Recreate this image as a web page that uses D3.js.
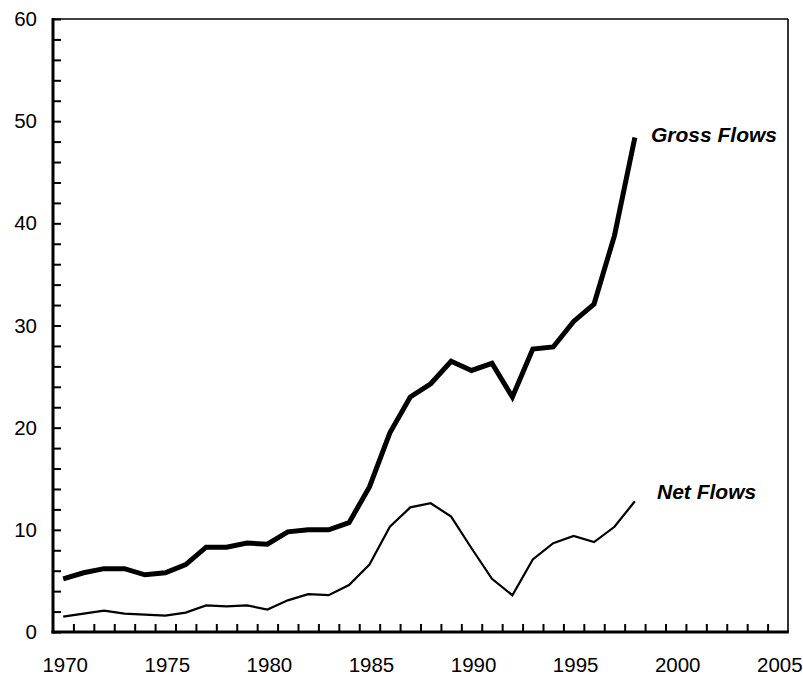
<!DOCTYPE html>
<html><head><meta charset="utf-8">
<script src="https://cdn.jsdelivr.net/npm/d3@7"></script>
<style>body{margin:0;background:#fff}svg{display:block}</style>
</head><body>
<svg id="c" width="803" height="675"></svg>
<script>
const years = [1970,1971,1972,1973,1974,1975,1976,1977,1978,1979,1980,1981,1982,1983,1984,1985,1986,1987,1988,1989,1990,1991,1992,1993,1994,1995,1996,1997,1998];
const grossFlows = [5.2,5.8,6.2,6.2,5.6,5.8,6.6,8.3,8.3,8.7,8.6,9.8,10.0,10.0,10.7,14.2,19.5,23.0,24.3,26.5,25.6,26.3,23.0,27.7,27.9,30.4,32.1,38.8,48.4];
const netFlows = [1.5,1.8,2.1,1.8,1.7,1.6,1.9,2.6,2.5,2.6,2.2,3.1,3.7,3.6,4.6,6.6,10.3,12.2,12.6,11.3,8.2,5.2,3.6,7.1,8.7,9.4,8.8,10.3,12.8];
const xTickLabels = [1970,1975,1980,1985,1990,1995,2000,2005];
const yTickLabels = [0,10,20,30,40,50,60];
const seriesLabels = ["Gross Flows","Net Flows"];

const svg = d3.select("#c");
const L=53, R=788, T=19, B=632;
const x = d3.scaleLinear().domain([1969.5,2005.5]).range([L,R]);
const y = d3.scaleLinear().domain([0,60]).range([B,T]);
const font = "'Liberation Sans', Arial, Helvetica, sans-serif";

// frame top/right
svg.append("line").attr("x1",L).attr("x2",R).attr("y1",T).attr("y2",T).attr("stroke","#000").attr("stroke-width",1.6);
svg.append("line").attr("x1",R).attr("x2",R).attr("y1",T).attr("y2",B).attr("stroke","#000").attr("stroke-width",1.6);

// y minor ticks
const yMinor = d3.range(0,61,2);
const gyT = svg.append("g").attr("transform",`translate(${L},0)`)
  .call(d3.axisLeft(y).tickValues(yMinor).tickSize(-8).tickFormat(""));
gyT.select(".domain").remove();
gyT.selectAll("line").attr("stroke-width",2);
const gyL = svg.append("g").attr("transform",`translate(${L},0)`)
  .call(d3.axisLeft(y).tickValues(yTickLabels).tickSize(0).tickPadding(16));
gyL.select(".domain").remove();
gyL.selectAll("text").attr("font-family",font).attr("font-size",20.5).attr("fill","#000");

// x minor ticks at boundaries
const xBound = d3.range(1970.5,2005,1);
const gxT = svg.append("g").attr("transform",`translate(0,${B})`)
  .call(d3.axisBottom(x).tickValues(xBound).tickSize(-8).tickFormat(""));
gxT.select(".domain").remove();
gxT.selectAll("line").attr("stroke-width",2);
const gxL = svg.append("g").attr("transform",`translate(0,${B})`)
  .call(d3.axisBottom(x).tickValues(xTickLabels).tickSize(0).tickPadding(25).tickFormat(d3.format("d")));
gxL.select(".domain").remove();
gxL.selectAll("text").attr("font-family",font).attr("font-size",20.5).attr("fill","#000").attr("dx",1.5);

// axis lines
svg.append("line").attr("x1",L).attr("x2",L).attr("y1",T-1).attr("y2",B+1.5).attr("stroke","#000").attr("stroke-width",3);
svg.append("line").attr("x1",L-1.5).attr("x2",R+0.8).attr("y1",B).attr("y2",B).attr("stroke","#000").attr("stroke-width",3);

const line = d3.line().x((d,i)=>x(years[i])).y(d=>y(d));
svg.append("path").datum(grossFlows).attr("d",line).attr("fill","none").attr("stroke","#000").attr("stroke-width",5).attr("stroke-linejoin","miter");
svg.append("path").datum(netFlows).attr("d",line).attr("fill","none").attr("stroke","#000").attr("stroke-width",2.2);

svg.append("text").attr("x",651).attr("y",142).text(seriesLabels[0])
  .attr("font-family",font).attr("font-size",21).attr("font-weight","bold").attr("font-style","italic");
svg.append("text").attr("x",657).attr("y",499).text(seriesLabels[1])
  .attr("font-family",font).attr("font-size",21).attr("font-weight","bold").attr("font-style","italic");
</script>
</body></html>
